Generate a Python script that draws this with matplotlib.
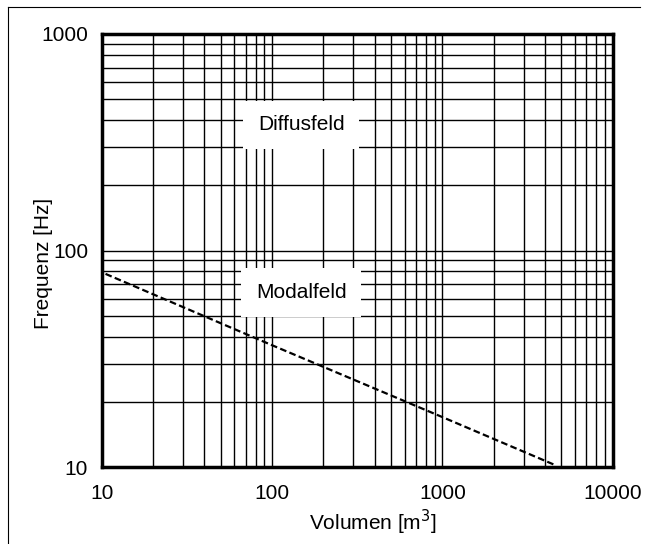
import matplotlib
matplotlib.use("Agg")
import matplotlib.pyplot as plt
from matplotlib.lines import Line2D

plt.rcParams["font.family"] = ["Liberation Sans", "DejaVu Sans"]

# Boundary between modal field and diffuse field
volume_m3 = [10.5, 100, 1000, 4600]
freq_hz = [78, 36.5, 17, 10.2]

x_ticks = [10, 100, 1000, 10000]
y_ticks = [10, 100, 1000]
region_labels = ["Diffusfeld", "Modalfeld"]
region_pos = [(148, 380), (148, 64)]

fig = plt.figure(figsize=(6.45, 5.44), dpi=100)
ax = fig.add_axes([0.158, 0.1415, 0.792, 0.796])

ax.set_xscale("log")
ax.set_yscale("log")
ax.set_xlim(10, 10000)
ax.set_ylim(10, 1000)

# Full log grid, major and minor alike
ax.grid(True, which="both", color="black", linewidth=1.0)
ax.set_axisbelow(True)

ax.plot(volume_m3, freq_hz, color="black", linestyle=(0, (3, 1.5)), linewidth=1.6)

for label, (x, y) in zip(region_labels, region_pos):
    ax.text(x, y, label, fontsize=15, ha="center", va="center",
            bbox=dict(boxstyle="square,pad=0.7", fc="white", ec="none"))

ax.set_xticks(x_ticks)
ax.set_xticklabels([str(t) for t in x_ticks])
ax.set_yticks(y_ticks)
ax.set_yticklabels([str(t) for t in y_ticks])
ax.minorticks_on()
ax.tick_params(which="both", length=0, labelsize=15)
ax.tick_params(axis="x", pad=12)
ax.tick_params(axis="y", pad=10)
ax.xaxis.set_minor_formatter(plt.NullFormatter())
ax.yaxis.set_minor_formatter(plt.NullFormatter())

for spine in ax.spines.values():
    spine.set_linewidth(2.5)

ax.set_xlabel("Volumen [m$^3$]", fontsize=15)
ax.set_ylabel("Frequenz [Hz]", fontsize=15)
ax.xaxis.set_label_coords(0.53, -0.095)
ax.yaxis.set_label_coords(-0.095, 0.47)

# Scan-style page border (left and top only)
fig.add_artist(Line2D([0.0124, 0.0124], [0.0, 0.987], transform=fig.transFigure,
                      color="black", linewidth=0.8))
fig.add_artist(Line2D([0.0124, 0.993], [0.987, 0.987], transform=fig.transFigure,
                      color="black", linewidth=0.8))

fig.savefig("out.png", dpi=100)
